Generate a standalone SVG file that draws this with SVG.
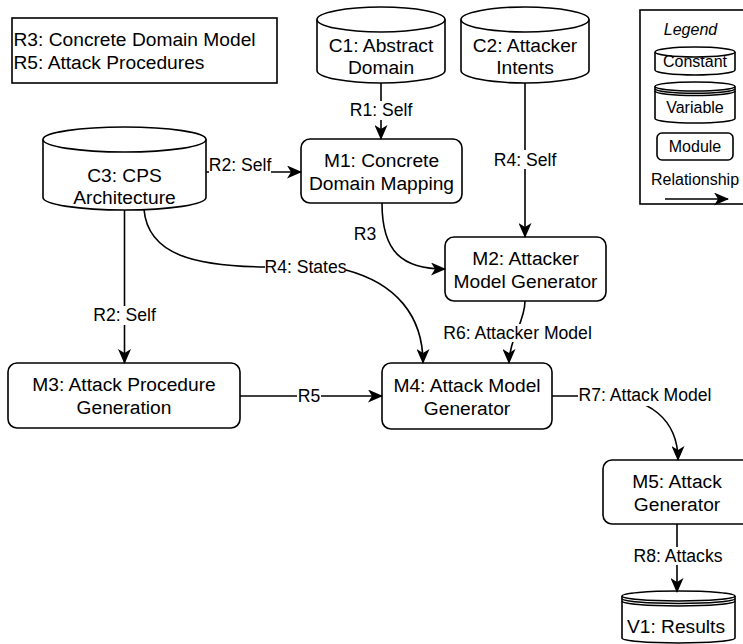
<svg xmlns="http://www.w3.org/2000/svg" width="743" height="644" viewBox="0 0 743 644">
<style>
.n{fill:#fff;stroke:#000;stroke-width:1.6}
.f{fill:none;stroke:#000;stroke-width:1.6}
.t{font-family:"Liberation Sans",Arial,sans-serif;font-size:19.2px;text-anchor:middle;fill:#000}
.l{font-family:"Liberation Sans",Arial,sans-serif;font-size:17.6px;text-anchor:middle;fill:#000}
.g{font-family:"Liberation Sans",Arial,sans-serif;font-size:16px;text-anchor:middle;fill:#000}
.e{fill:none;stroke:#000;stroke-width:1.6;marker-end:url(#arr)}
.bg{fill:#fff}
</style>
<defs>
<marker id="arr" markerUnits="userSpaceOnUse" viewBox="0 0 15 13" refX="14" refY="6.5" markerWidth="15" markerHeight="13" orient="auto">
<path d="M0,0 L15,6.5 L0,13 L4,6.5 Z" fill="#000"/>
</marker>
</defs>
<rect width="743" height="644" fill="#fff"/>

<g id="notes">
<rect class="n" x="12" y="18" width="265" height="65"/>
<text class="t" x="13.5" y="46" style="text-anchor:start">R3: Concrete Domain Model</text>
<text class="t" x="13.5" y="69" style="text-anchor:start">R5: Attack Procedures</text>
</g>

<g id="legend">
<rect class="n" x="640" y="10" width="112" height="194"/>
<text class="g" x="690.5" y="35" style="font-style:italic">Legend</text>
<path class="n" d="M655,52 A40,5 0 0 1 735,52 L735,70 A40,5 0 0 1 655,70 Z"/>
<path class="f" d="M655,52 A40,5 0 0 0 735,52"/>
<text class="g" x="695" y="67">Constant</text>
<path class="n" d="M655,86.5 A40,4.5 0 0 1 735,86.5 L735,118.5 A40,4.5 0 0 1 655,118.5 Z"/>
<path class="f" d="M655,86.5 A40,4.5 0 0 0 735,86.5 M655,88.75 A40,4.5 0 0 0 735,88.75 M655,91 A40,4.5 0 0 0 735,91"/>
<text class="g" x="695" y="113">Variable</text>
<rect class="n" x="657" y="133" width="76" height="27" rx="5"/>
<text class="g" x="695" y="152">Module</text>
<text class="g" x="695" y="185">Relationship</text>
<line class="e" x1="665" y1="199" x2="728" y2="199"/>
</g>

<g id="C1">
<path class="n" d="M317,19.5 A64,12.5 0 0 1 445,19.5 L445,70.5 A64,12.5 0 0 1 317,70.5 Z"/>
<path class="f" d="M317,19.5 A64,12.5 0 0 0 445,19.5"/>
<text class="t" x="381" y="52">C1: Abstract</text>
<text class="t" x="381" y="74">Domain</text>
</g>

<g id="C2">
<path class="n" d="M461,19.5 A64,12.5 0 0 1 589,19.5 L589,70.5 A64,12.5 0 0 1 461,70.5 Z"/>
<path class="f" d="M461,19.5 A64,12.5 0 0 0 589,19.5"/>
<text class="t" x="525" y="52">C2: Attacker</text>
<text class="t" x="525" y="74">Intents</text>
</g>

<g id="C3">
<path class="n" d="M43,139.5 A81.5,12.5 0 0 1 206,139.5 L206,197.5 A81.5,12.5 0 0 1 43,197.5 Z"/>
<path class="f" d="M43,139.5 A81.5,12.5 0 0 0 206,139.5"/>
<text class="t" x="124.5" y="182">C3: CPS</text>
<text class="t" x="124.5" y="204">Architecture</text>
</g>

<g id="M1">
<rect class="n" x="301" y="139" width="161" height="64" rx="9"/>
<text class="t" x="381.5" y="167">M1: Concrete</text>
<text class="t" x="381.5" y="190">Domain Mapping</text>
</g>

<g id="M2">
<rect class="n" x="445" y="237" width="161" height="64" rx="9"/>
<text class="t" x="525.5" y="265">M2: Attacker</text>
<text class="t" x="525.5" y="288">Model Generator</text>
</g>

<g id="M3">
<rect class="n" x="8" y="363" width="232" height="65" rx="9"/>
<text class="t" x="124" y="391">M3: Attack Procedure</text>
<text class="t" x="124" y="414">Generation</text>
</g>

<g id="M4">
<rect class="n" x="382" y="363" width="170" height="66" rx="9"/>
<text class="t" x="467" y="392">M4: Attack Model</text>
<text class="t" x="467" y="415">Generator</text>
</g>

<g id="M5">
<rect class="n" x="603" y="460" width="150" height="64" rx="9"/>
<text class="t" x="677" y="488">M5: Attack</text>
<text class="t" x="677" y="511">Generator</text>
</g>

<g id="V1">
<path class="n" d="M622,596 A56.5,5 0 0 1 735,596 L735,638 A56.5,5 0 0 1 622,638 Z"/>
<path class="f" d="M622,596 A56.5,5 0 0 0 735,596 M622,598.5 A56.5,5 0 0 0 735,598.5 M622,601 A56.5,5 0 0 0 735,601"/>
<text class="t" x="676" y="633">V1: Results</text>
</g>

<g id="connectors">
<line class="e" x1="381" y1="83" x2="381" y2="139"/>
<rect class="bg" x="348" y="101" width="66" height="19"/>
<text class="l" x="381" y="116">R1: Self</text>

<line class="e" x1="206" y1="172" x2="301" y2="172"/>
<rect class="bg" x="209" y="156" width="62" height="18"/>
<text class="l" x="240" y="171">R2: Self</text>

<path class="e" d="M382,203 C382,252 402,269 445,269"/>
<text class="l" x="365" y="240">R3</text>

<line class="e" x1="525" y1="83" x2="525" y2="237"/>
<rect class="bg" x="494" y="150" width="62" height="19"/>
<text class="l" x="525" y="166">R4: Self</text>

<path class="e" d="M144,209.5 C148,255 195,266 265,267 L346,270 C395,283 423,315 423,363"/>
<rect class="bg" x="265" y="258" width="81" height="17"/>
<text class="l" x="305.5" y="273">R4: States</text>

<line class="e" x1="124.5" y1="210" x2="124.5" y2="363"/>
<rect class="bg" x="92" y="306" width="65" height="19"/>
<text class="l" x="124.5" y="321">R2: Self</text>

<line class="e" x1="240" y1="396" x2="382" y2="396"/>
<rect class="bg" x="297" y="387" width="24" height="18"/>
<text class="l" x="309" y="402">R5</text>

<path class="e" d="M525,301 C525,322 509,340 509,363"/>
<rect class="bg" x="443" y="324" width="149" height="18"/>
<text class="l" x="517.5" y="339">R6: Attacker Model</text>

<path class="e" d="M552,396 L600,396 C650,396 678,420 678,460"/>
<rect class="bg" x="578" y="385" width="135" height="21"/>
<text class="l" x="645" y="401">R7: Attack Model</text>

<line class="e" x1="677" y1="524" x2="677" y2="592"/>
<rect class="bg" x="632" y="547" width="92" height="18"/>
<text class="l" x="678" y="562">R8: Attacks</text>
</g>
</svg>
